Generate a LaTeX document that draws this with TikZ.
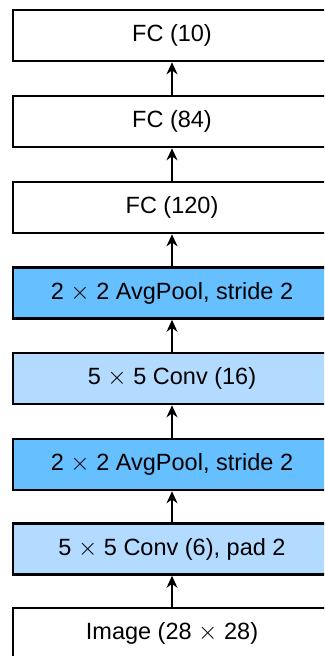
\documentclass[tikz,border=0pt]{standalone}
\usepackage{fontspec}
\setmainfont{Liberation Sans}
\usetikzlibrary{arrows.meta}

\definecolor{poolblue}{RGB}{102,192,255}
\definecolor{convblue}{RGB}{179,218,255}

\tikzset{
  layer/.style={draw, line width=2.6pt, minimum width=318pt, minimum height=51pt,
    inner sep=0pt, font=\fontsize{23.5}{28}\selectfont},
  flow/.style={line width=2.6pt, -{Stealth[length=12pt,width=11pt]}}
}

\begin{document}
\begin{tikzpicture}[x=1pt, y=1pt]
    \useasboundingbox (0,0) rectangle (324,-656);
    \clip (0,0) rectangle (324,-656);

    % Layers, bottom to top
    \node[layer] (img)   at (172,-633.5) {Image (28 $\times$ 28)};
    \node[layer, fill=convblue] (conv1) at (172,-549) {5 $\times$ 5 Conv (6), pad 2};
    \node[layer, fill=poolblue] (pool1) at (172,-464.5) {2 $\times$ 2 AvgPool, stride 2};
    \node[layer, fill=convblue] (conv2) at (172,-378.5) {5 $\times$ 5 Conv (16)};
    \node[layer, fill=poolblue] (pool2) at (172,-293) {2 $\times$ 2 AvgPool, stride 2};
    \node[layer] (fc1) at (172,-207.5) {FC (120)};
    \node[layer] (fc2) at (172,-121.5) {FC (84)};
    \node[layer] (fc3) at (172,-35.5) {FC (10)};

    % Arrows
    \foreach \a/\b in {img/conv1, conv1/pool1, pool1/conv2, conv2/pool2,
                       pool2/fc1, fc1/fc2, fc2/fc3}
        \draw[flow] (\a) -- (\b);
\end{tikzpicture}
\end{document}
